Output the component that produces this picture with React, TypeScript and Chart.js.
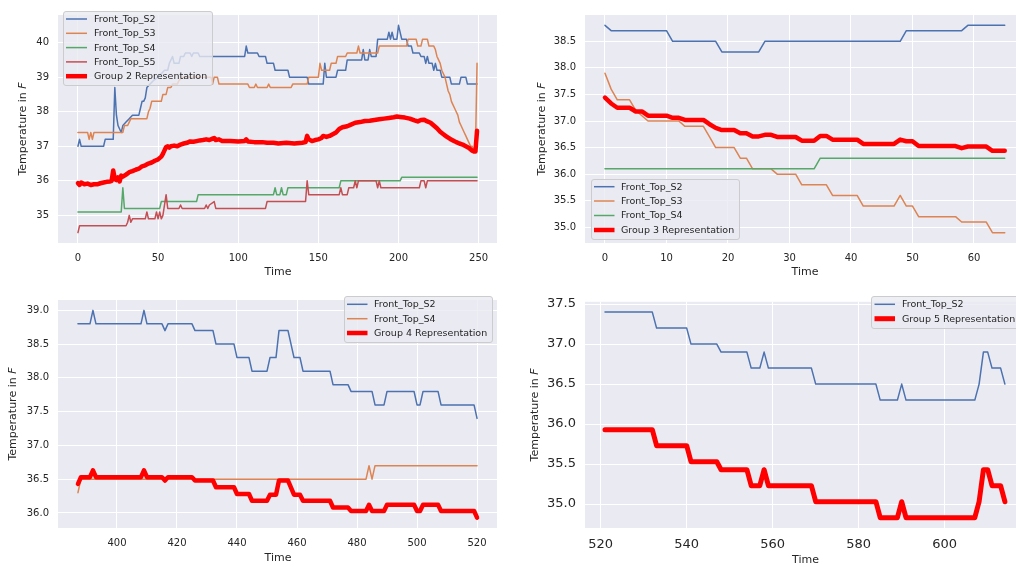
import React, { useEffect, useRef } from "react";
import { Chart, registerables } from "chart.js";

Chart.register(...registerables);

type Pt = [number, number];

// ---------- Group 2 (top-left) ----------
const g2S2: Pt[] = [[0,37.0],[1,37.2],[2,37.0],[16,37.0],[17,37.2],[22,37.2],[23,38.7],[24,37.9],[25,37.6],[26,37.5],[27,37.4],[28,37.6],[30,37.7],[32,37.8],[34,37.9],[38,37.9],[39,38.1],[40,38.3],[41,38.3],[42,38.4],[43,38.7],[45,38.8],[47,38.9],[50,39.0],[52,39.1],[54,39.2],[56,39.2],[57,39.4],[59,39.6],[60,39.4],[63,39.4],[64,39.6],[66,39.6],[67,39.7],[70,39.7],[71,39.6],[72,39.7],[75,39.7],[76,39.6],[104,39.6],[105,39.9],[106,39.7],[112,39.7],[113,39.6],[117,39.6],[118,39.4],[122,39.4],[123,39.2],[131,39.2],[132,39.0],[143,39.0],[144,38.8],[153,38.8],[154,39.4],[155,39.0],[161,39.0],[162,39.2],[167,39.2],[168,39.5],[177,39.5],[178,39.8],[179,39.5],[181,39.5],[182,39.8],[183,39.6],[186,39.6],[187,40.1],[193,40.1],[194,40.3],[195,40.1],[196,40.3],[197,40.1],[199,40.1],[200,40.5],[202,40.1],[205,40.1],[206,39.9],[208,39.9],[209,39.7],[213,39.7],[214,39.6],[216,39.6],[217,39.4],[218,39.6],[219,39.4],[221,39.4],[222,39.2],[223,39.4],[224,39.2],[226,39.2],[227,39.0],[232,39.0],[233,38.8],[238,38.8],[239,39.0],[242,39.0],[243,38.8],[249,38.8]];
const g2S3: Pt[] = [[0,37.4],[6,37.4],[7,37.2],[8,37.4],[9,37.2],[10,37.4],[28,37.4],[29,37.6],[31,37.6],[32,37.7],[33,37.8],[43,37.8],[44,38.0],[45,38.1],[46,38.3],[52,38.3],[53,38.5],[55,38.5],[56,38.7],[58,38.7],[59,38.8],[62,38.8],[63,38.9],[65,39.0],[83,39.0],[84,38.8],[85,39.0],[87,39.0],[88,38.8],[106,38.8],[107,38.7],[110,38.7],[111,38.8],[112,38.7],[118,38.7],[119,38.8],[120,38.7],[133,38.7],[134,38.8],[143,38.8],[144,39.0],[150,39.0],[151,39.4],[152,39.2],[157,39.2],[158,39.4],[161,39.4],[162,39.6],[167,39.6],[168,39.7],[174,39.7],[175,39.9],[176,39.7],[187,39.7],[188,39.9],[205,39.9],[206,40.1],[211,40.1],[212,39.9],[214,39.9],[215,40.1],[218,40.1],[219,39.9],[222,39.9],[223,39.8],[224,39.6],[225,39.5],[226,39.4],[227,39.2],[228,39.1],[229,39.0],[230,38.8],[231,38.6],[232,38.5],[233,38.3],[234,38.2],[235,38.1],[236,38.0],[237,37.9],[238,37.7],[239,37.6],[240,37.5],[241,37.4],[242,37.3],[243,37.2],[244,37.1],[245,37.0],[246,37.0],[247,36.9],[248,36.9],[249,39.4]];
const g2S4: Pt[] = [[0,35.1],[27,35.1],[28,35.8],[29,35.2],[51,35.2],[52,35.4],[74,35.4],[75,35.6],[122,35.6],[123,35.8],[124,35.6],[126,35.6],[127,35.8],[128,35.6],[130,35.6],[131,35.8],[163,35.8],[164,36.0],[201,36.0],[202,36.1],[249,36.1]];
const g2S5: Pt[] = [[0,34.5],[1,34.7],[30,34.7],[31,34.8],[32,35.0],[33,34.8],[34,34.9],[42,34.9],[43,35.1],[44,34.9],[48,34.9],[49,35.1],[50,34.9],[51,35.1],[52,34.9],[53,35.0],[55,35.6],[56,35.2],[63,35.2],[64,35.3],[65,35.2],[79,35.2],[80,35.3],[81,35.2],[82,35.3],[85,35.4],[86,35.2],[117,35.2],[118,35.4],[142,35.4],[143,36.0],[144,35.6],[163,35.6],[164,35.8],[165,35.6],[168,35.6],[169,35.8],[172,35.8],[173,36.0],[174,35.8],[175,36.0],[186,36.0],[187,35.8],[188,36.0],[189,35.8],[213,35.8],[214,36.0],[216,36.0],[217,35.8],[218,36.0],[249,36.0]];
const g2Rep: Pt[] = [[0,35.93],[1,35.88],[2,35.95],[4,35.9],[6,35.92],[8,35.88],[10,35.9],[12,35.9],[14,35.93],[16,35.95],[18,35.97],[20,35.98],[21,36.0],[22,36.3],[23,36.05],[24,36.02],[25,36.1],[26,35.98],[27,36.15],[28,36.12],[30,36.18],[32,36.25],[34,36.28],[36,36.32],[38,36.35],[40,36.42],[42,36.45],[44,36.5],[46,36.53],[48,36.58],[50,36.62],[52,36.7],[53,36.78],[54,36.88],[55,36.98],[56,37.0],[57,36.96],[58,37.0],[60,37.02],[62,37.0],[64,37.05],[66,37.08],[68,37.1],[70,37.14],[72,37.13],[74,37.15],[76,37.17],[78,37.18],[80,37.2],[82,37.18],[84,37.22],[85,37.24],[86,37.18],[88,37.2],[90,37.15],[95,37.15],[100,37.14],[104,37.15],[105,37.2],[106,37.14],[110,37.12],[115,37.12],[118,37.1],[122,37.1],[125,37.08],[130,37.1],[135,37.08],[140,37.1],[142,37.12],[143,37.3],[144,37.2],[146,37.15],[148,37.18],[150,37.2],[152,37.24],[153,37.3],[155,37.27],[157,37.3],[159,37.35],[161,37.4],[163,37.5],[165,37.55],[168,37.58],[170,37.62],[173,37.68],[176,37.7],[179,37.73],[182,37.74],[185,37.76],[188,37.78],[191,37.8],[194,37.82],[197,37.84],[199,37.86],[201,37.85],[204,37.83],[207,37.8],[210,37.75],[212,37.72],[214,37.76],[216,37.77],[218,37.72],[220,37.68],[222,37.6],[224,37.52],[226,37.42],[228,37.35],[230,37.28],[232,37.22],[234,37.17],[236,37.12],[238,37.08],[240,37.05],[242,37.0],[244,36.95],[246,36.87],[247,36.85],[248,36.85],[249,37.45]];

// ---------- Group 3 (top-right) ----------
const g3S2: Pt[] = [[0,38.8],[1,38.7],[10,38.7],[11,38.5],[18,38.5],[19,38.3],[25,38.3],[26,38.5],[48,38.5],[49,38.7],[58,38.7],[59,38.8],[65,38.8]];
const g3S3: Pt[] = [[0,37.9],[1,37.6],[2,37.4],[4,37.4],[5,37.2],[6,37.1],[7,37.0],[12,37.0],[13,36.9],[16,36.9],[17,36.7],[18,36.5],[21,36.5],[22,36.3],[23,36.3],[24,36.1],[27,36.1],[28,36.0],[31,36.0],[32,35.8],[36,35.8],[37,35.6],[41,35.6],[42,35.4],[47,35.4],[48,35.6],[49,35.4],[50,35.4],[51,35.2],[57,35.2],[58,35.1],[62,35.1],[63,34.9],[65,34.9]];
const g3S4: Pt[] = [[0,36.1],[34,36.1],[35,36.3],[65,36.3]];
const g3Rep: Pt[] = [[0,37.44],[1,37.33],[2,37.25],[4,37.25],[5,37.18],[6,37.18],[7,37.1],[10,37.1],[11,37.06],[12,37.06],[13,37.02],[16,37.02],[17,36.94],[18,36.87],[19,36.83],[21,36.83],[22,36.77],[23,36.77],[24,36.71],[25,36.71],[26,36.74],[27,36.74],[28,36.7],[31,36.7],[32,36.63],[34,36.63],[35,36.72],[36,36.72],[37,36.65],[41,36.65],[42,36.57],[47,36.57],[48,36.65],[49,36.62],[50,36.62],[51,36.53],[57,36.53],[58,36.49],[59,36.52],[62,36.52],[63,36.44],[65,36.44]];

// ---------- Group 4 (bottom-left) ----------
const g4S2: Pt[] = [[387,38.8],[391,38.8],[392,39.0],[393,38.8],[408,38.8],[409,39.0],[410,38.8],[415,38.8],[416,38.7],[417,38.8],[425,38.8],[426,38.7],[432,38.7],[433,38.5],[439,38.5],[440,38.3],[444,38.3],[445,38.1],[450,38.1],[451,38.3],[453,38.3],[454,38.7],[457,38.7],[459,38.3],[461,38.3],[462,38.1],[471,38.1],[472,37.9],[477,37.9],[478,37.8],[485,37.8],[486,37.6],[489,37.6],[490,37.8],[499,37.8],[500,37.6],[501,37.6],[502,37.8],[507,37.8],[508,37.6],[519,37.6],[520,37.4]];
const g4S4: Pt[] = [[387,36.3],[388,36.5],[483,36.5],[484,36.7],[485,36.5],[486,36.7],[520,36.7]];
const g4Rep: Pt[] = [[387,36.43],[388,36.53],[391,36.53],[392,36.63],[393,36.53],[408,36.53],[409,36.63],[410,36.53],[415,36.53],[416,36.48],[417,36.53],[425,36.53],[426,36.48],[432,36.48],[433,36.38],[439,36.38],[440,36.28],[444,36.28],[445,36.18],[450,36.18],[451,36.27],[453,36.27],[454,36.48],[457,36.48],[459,36.27],[461,36.27],[462,36.18],[471,36.18],[472,36.08],[477,36.08],[478,36.03],[483,36.03],[484,36.12],[485,36.03],[489,36.03],[490,36.12],[499,36.12],[500,36.03],[501,36.03],[502,36.12],[507,36.12],[508,36.03],[519,36.03],[520,35.93]];

// ---------- Group 5 (bottom-right) ----------
const g5S2: Pt[] = [[521,37.4],[532,37.4],[533,37.2],[540,37.2],[541,37.0],[547,37.0],[548,36.9],[554,36.9],[555,36.7],[557,36.7],[558,36.9],[559,36.7],[569,36.7],[570,36.5],[584,36.5],[585,36.3],[589,36.3],[590,36.5],[591,36.3],[607,36.3],[608,36.5],[609,36.9],[610,36.9],[611,36.7],[613,36.7],[614,36.5]];
const g5Rep: Pt[] = [[521,35.93],[532,35.93],[533,35.73],[540,35.73],[541,35.53],[547,35.53],[548,35.43],[554,35.43],[555,35.23],[557,35.23],[558,35.43],[559,35.23],[569,35.23],[570,35.03],[584,35.03],[585,34.83],[589,34.83],[590,35.03],[591,34.83],[607,34.83],[608,35.03],[609,35.43],[610,35.43],[611,35.23],[613,35.23],[614,35.03]];

// ---------- tick labels ----------
const g2XTicks = [0, 50, 100, 150, 200, 250];
const g2YTicks = [35, 36, 37, 38, 39, 40];
const g3XTicks = [0, 10, 20, 30, 40, 50, 60];
const g3YTicks = [35.0, 35.5, 36.0, 36.5, 37.0, 37.5, 38.0, 38.5];
const g4XTicks = [400, 420, 440, 460, 480, 500, 520];
const g4YTicks = [36.0, 36.5, 37.0, 37.5, 38.0, 38.5, 39.0];
const g5XTicks = [520, 540, 560, 580, 600];
const g5YTicks = [35.0, 35.5, 36.0, 36.5, 37.0, 37.5];

const FONT = '"DejaVu Sans", sans-serif';
const TEXT = "#262626";
const BLUE = "#4C72B0";
const ORANGE = "#DD8452";
const GREEN = "#55A868";
const RED5 = "#C44E52";
const REP = "#FF0000";

interface Series { label: string; data: Pt[]; color: string; width: number; }
interface Panel {
  left: number; top: number; width: number; height: number;
  area: { left: number; top: number; right: number; bottom: number };
  xMin: number; xMax: number; yMin: number; yMax: number;
  xTicks: number[]; yTicks: number[]; yDec: number; tickSize: number;
  series: Series[];
  yTitleX: number; xTitleX: number; xTitleY: number;
  legend: { x: number; y: number; w: number; h: number; l1: number; l2: number; tx: number; rows: number[] };
}

const panels: Panel[] = [
  {
    left: 0, top: 0, width: 500, height: 283,
    area: { left: 58, top: 7, right: 497, bottom: 243 },
    xMin: -12.45, xMax: 261.45, yMin: 34.2, yMax: 40.8,
    xTicks: g2XTicks, yTicks: g2YTicks, yDec: 0, tickSize: 10,
    series: [
      { label: "Front_Top_S2", data: g2S2, color: BLUE, width: 1.5 },
      { label: "Front_Top_S3", data: g2S3, color: ORANGE, width: 1.5 },
      { label: "Front_Top_S4", data: g2S4, color: GREEN, width: 1.5 },
      { label: "Front_Top_S5", data: g2S5, color: RED5, width: 1.5 },
      { label: "Group 2 Representation", data: g2Rep, color: REP, width: 4.5 },
    ],
    yTitleX: 23, xTitleX: 278, xTitleY: 272,
    legend: { x: 63, y: 11, w: 149, h: 74, l1: 66, l2: 87, tx: 94, rows: [19, 33.3, 47.6, 61.9, 76.2] },
  },
  {
    left: 508, top: 0, width: 508, height: 283,
    area: { left: 77, top: 7, right: 508, bottom: 243 },
    xMin: -3.25, xMax: 66.83, yMin: 34.705, yMax: 38.995,
    xTicks: g3XTicks, yTicks: g3YTicks, yDec: 1, tickSize: 10,
    series: [
      { label: "Front_Top_S2", data: g3S2, color: BLUE, width: 1.5 },
      { label: "Front_Top_S3", data: g3S3, color: ORANGE, width: 1.5 },
      { label: "Front_Top_S4", data: g3S4, color: GREEN, width: 1.5 },
      { label: "Group 3 Representation", data: g3Rep, color: REP, width: 4.5 },
    ],
    yTitleX: 34, xTitleX: 297, xTitleY: 272,
    legend: { x: 83, y: 179, w: 148, h: 60, l1: 86, l2: 106.5, tx: 113, rows: [186.7, 201, 215.5, 230] },
  },
  {
    left: 0, top: 285, width: 500, height: 282,
    area: { left: 58, top: 7, right: 497, bottom: 243 },
    xMin: 380.35, xMax: 526.65, yMin: 35.7765, yMax: 39.1535,
    xTicks: g4XTicks, yTicks: g4YTicks, yDec: 1, tickSize: 10,
    series: [
      { label: "Front_Top_S2", data: g4S2, color: BLUE, width: 1.5 },
      { label: "Front_Top_S4", data: g4S4, color: ORANGE, width: 1.5 },
      { label: "Group 4 Representation", data: g4Rep, color: REP, width: 4.5 },
    ],
    yTitleX: 13, xTitleX: 278, xTitleY: 273,
    legend: { x: 344, y: 11, w: 148, h: 46, l1: 347, l2: 367.5, tx: 374, rows: [19.3, 33.7, 48] },
  },
  {
    left: 508, top: 285, width: 508, height: 282,
    area: { left: 77, top: 7, right: 508, bottom: 243 },
    xMin: 516.35, xMax: 616.58, yMin: 34.7015, yMax: 37.5285,
    xTicks: g5XTicks, yTicks: g5YTicks, yDec: 1, tickSize: 13,
    series: [
      { label: "Front_Top_S2", data: g5S2, color: BLUE, width: 1.5 },
      { label: "Group 5 Representation", data: g5Rep, color: REP, width: 5 },
    ],
    yTitleX: 27, xTitleX: 297.5, xTitleY: 275,
    legend: { x: 363, y: 11, w: 150, h: 32, l1: 366.5, l2: 387, tx: 394, rows: [19.3, 33.7] },
  },
];

const bgPlugin = {
  id: "axesBg",
  beforeDraw(chart: any) {
    const { ctx, chartArea: a } = chart;
    ctx.save();
    ctx.fillStyle = "#EAEAF2";
    ctx.fillRect(a.left, a.top, a.right - a.left, a.bottom - a.top);
    ctx.restore();
  },
};

function overlayPlugin(p: Panel) {
  return {
    id: "overlay",
    afterDraw(chart: any) {
      const ctx: CanvasRenderingContext2D = chart.ctx;
      const a = chart.chartArea;
      ctx.save();
      // y title with italic F
      const normal = "Temperature in ";
      const ital = "F";
      ctx.font = `11px ${FONT}`;
      const w1 = ctx.measureText(normal).width;
      ctx.font = `italic 11px ${FONT}`;
      const w2 = ctx.measureText(ital).width;
      ctx.translate(p.yTitleX, (a.top + a.bottom) / 2);
      ctx.rotate(-Math.PI / 2);
      ctx.fillStyle = TEXT;
      ctx.textBaseline = "middle";
      ctx.textAlign = "left";
      ctx.font = `11px ${FONT}`;
      ctx.fillText(normal, -(w1 + w2) / 2, 0);
      ctx.font = `italic 11px ${FONT}`;
      ctx.fillText(ital, -(w1 + w2) / 2 + w1, 0);
      ctx.restore();

      // x title
      ctx.save();
      ctx.fillStyle = TEXT;
      ctx.font = `11px ${FONT}`;
      ctx.textAlign = "center";
      ctx.textBaseline = "middle";
      ctx.fillText("Time", p.xTitleX, p.xTitleY);
      ctx.restore();

      // legend
      const L = p.legend;
      ctx.save();
      ctx.beginPath();
      if ((ctx as any).roundRect) (ctx as any).roundRect(L.x + 0.5, L.y + 0.5, L.w, L.h, 2.5);
      else ctx.rect(L.x + 0.5, L.y + 0.5, L.w, L.h);
      ctx.fillStyle = "rgba(234,234,242,0.8)";
      ctx.fill();
      ctx.strokeStyle = "#CCCCCC";
      ctx.lineWidth = 1;
      ctx.stroke();
      p.series.forEach((s, i) => {
        const y = L.rows[i];
        ctx.beginPath();
        ctx.strokeStyle = s.color;
        ctx.lineWidth = s.width;
        ctx.lineCap = "butt";
        ctx.moveTo(L.l1, y);
        ctx.lineTo(L.l2, y);
        ctx.stroke();
        ctx.fillStyle = TEXT;
        ctx.font = `9.5px ${FONT}`;
        ctx.textAlign = "left";
        ctx.textBaseline = "middle";
        ctx.fillText(s.label, L.tx, y + 0.5);
      });
      ctx.restore();
    },
  };
}

function PanelChart({ p }: { p: Panel }) {
  const ref = useRef<HTMLCanvasElement | null>(null);
  useEffect(() => {
    if (!ref.current) return;
    const n = p.series.length;
    const chart = new Chart(ref.current, {
      type: "line",
      data: {
        datasets: p.series.map((s, i) => ({
          label: s.label,
          data: s.data.map(([x, y]) => ({ x, y })),
          borderColor: s.color,
          backgroundColor: s.color,
          borderWidth: s.width,
          pointRadius: 0,
          pointHoverRadius: 0,
          tension: 0,
          fill: false,
          order: n - i,
          borderJoinStyle: "round",
          borderCapStyle: "round",
        })),
      },
      options: {
        responsive: false,
        animation: false,
        events: [],
        layout: { padding: { left: 0, top: p.area.top, right: p.width - p.area.right, bottom: 0 } },
        plugins: { legend: { display: false }, tooltip: { enabled: false }, title: { display: false } },
        scales: {
          x: {
            type: "linear",
            min: p.xMin,
            max: p.xMax,
            bounds: "data",
            afterBuildTicks: (s: any) => { s.ticks = p.xTicks.map((v) => ({ value: v })); },
            afterFit: (s: any) => { s.height = p.height - p.area.bottom; },
            grid: { color: "#FFFFFF", lineWidth: 1, drawTicks: false },
            border: { display: false },
            ticks: {
              autoSkip: false, maxRotation: 0, minRotation: 0, padding: 9,
              color: TEXT, font: { family: FONT, size: p.tickSize },
              callback: (v: any) => String(Math.round(Number(v))),
            },
          },
          y: {
            type: "linear",
            min: p.yMin,
            max: p.yMax,
            bounds: "data",
            afterBuildTicks: (s: any) => { s.ticks = p.yTicks.map((v) => ({ value: v })); },
            afterFit: (s: any) => { s.width = p.area.left; },
            grid: { color: "#FFFFFF", lineWidth: 1, drawTicks: false },
            border: { display: false },
            ticks: {
              autoSkip: false, padding: 9,
              color: TEXT, font: { family: FONT, size: p.tickSize },
              callback: (v: any) => Number(v).toFixed(p.yDec),
            },
          },
        },
      } as any,
      plugins: [bgPlugin, overlayPlugin(p)],
    });
    return () => chart.destroy();
  }, [p]);
  return (
    <canvas
      ref={ref}
      width={p.width}
      height={p.height}
      style={{ position: "absolute", left: p.left, top: p.top, width: p.width, height: p.height }}
    />
  );
}

export default function App() {
  return (
    <div
      style={{
        position: "fixed", left: 0, top: 0, width: 1016, height: 567,
        background: "#FFFFFF", overflow: "hidden",
      }}
    >
      {panels.map((p, i) => (
        <PanelChart key={i} p={p} />
      ))}
    </div>
  );
}
